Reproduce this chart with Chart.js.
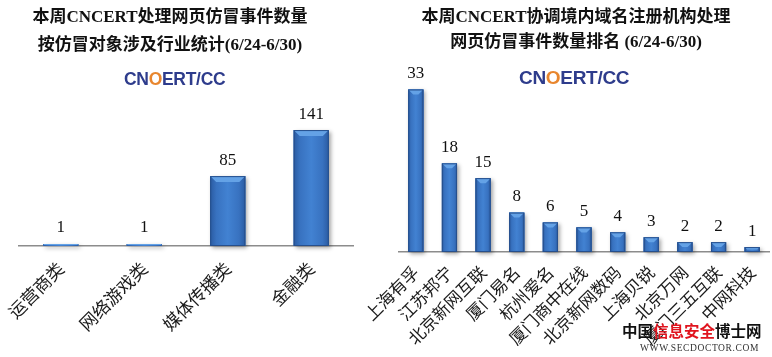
<!DOCTYPE html>
<html><head><meta charset="utf-8">
<script src="https://cdn.jsdelivr.net/npm/chart.js@4.4.1/dist/chart.umd.min.js"></script>
<style>
html,body{margin:0;padding:0;background:#fff;}
#wrap{position:relative;width:772px;height:357px;overflow:hidden;background:#fff;}
canvas{position:absolute;top:0;}
.title{position:absolute;text-align:center;font-family:"Liberation Serif","Noto Sans CJK SC",serif;font-weight:bold;font-size:17px;color:#111;white-space:nowrap;}
.logo{position:absolute;font-family:"Liberation Sans",Arial,sans-serif;font-weight:bold;color:#2E3C8C;white-space:nowrap;line-height:1;letter-spacing:-0.3px;}
.logo span{color:#E8862E;}
.wm{position:absolute;white-space:nowrap;}
</style></head>
<body><div id="wrap">
<canvas id="c1" width="386" height="357" style="left:0"></canvas>
<canvas id="c2" width="472" height="357" style="left:300px"></canvas>
<div class="title" style="left:0;width:340px;top:3px;line-height:28px;">本周CNCERT处理网页仿冒事件数量<br>按仿冒对象涉及行业统计(6/24-6/30)</div>
<div class="title" style="left:406px;width:340px;top:4px;line-height:25px;">本周CNCERT协调境内域名注册机构处理<br>网页仿冒事件数量排名 (6/24-6/30)</div>
<div class="logo" style="left:124px;top:71px;font-size:17.5px;">CN<span>O</span>ERT/CC</div>
<div class="logo" style="left:519px;top:68px;font-size:19px;">CN<span>O</span>ERT/CC</div>
<div class="wm" style="left:622px;top:323px;font-family:'Noto Sans CJK SC';font-weight:bold;font-size:15.5px;line-height:1;color:#111;">中国<span style="color:#E0141E">信息安全</span>博士网</div>
<div class="wm" style="left:640px;top:344px;font-family:'Liberation Serif';font-size:9.5px;line-height:1;letter-spacing:0.6px;color:#333;">WWW.SECDOCTOR.COM</div>
</div>
<script>
const leftCategories = ['运营商类','网络游戏类','媒体传播类','金融类'];
const leftValues = [1, 1, 85, 141];
const rightCategories = ['上海有孚','江苏邦宁','北京新网互联','厦门易名','杭州爱名','厦门商中在线','北京新网数码','上海贝锐','北京万网','厦门三五互联','中网科技'];
const rightValues = [33, 18, 15, 8, 6, 5, 4, 3, 2, 2, 1];

function barGeom(el){
  const w = el.width, l = el.x - w/2, r = el.x + w/2;
  const t = Math.min(el.y, el.base), b = Math.max(el.y, el.base);
  return {l, r, t, b, w};
}
const bevelPlugin = {
  id: 'bevel',
  beforeDatasetsDraw(chart){
    const ctx = chart.ctx;
    chart.getDatasetMeta(0).data.forEach(el => {
      const g = barGeom(el);
      ctx.save();
      ctx.shadowColor = 'rgba(0,0,0,0.35)';
      ctx.shadowBlur = 4; ctx.shadowOffsetX = 2; ctx.shadowOffsetY = 2;
      ctx.fillStyle = '#2f62a8';
      ctx.fillRect(g.l, g.t, g.w, g.b - g.t);
      ctx.restore();
    });
  },
  afterDatasetsDraw(chart, args, opts){
    const ctx = chart.ctx;
    const meta = chart.getDatasetMeta(0);
    const vals = chart.data.datasets[0].data;
    meta.data.forEach((el, i) => {
      const g = barGeom(el);
      const h = g.b - g.t;
      ctx.save();
      const grad = ctx.createLinearGradient(g.l, 0, g.r, 0);
      grad.addColorStop(0, '#2A5BA2');
      grad.addColorStop(0.18, '#3872C0');
      grad.addColorStop(0.5, '#4282D2');
      grad.addColorStop(0.82, '#3872C0');
      grad.addColorStop(1, '#2A5BA2');
      ctx.fillStyle = grad;
      ctx.fillRect(g.l, g.t, g.w, h);
      const bv = Math.min(opts.bevel, g.w/2.2, h/2);
      ctx.beginPath();
      ctx.moveTo(g.l, g.t); ctx.lineTo(g.r, g.t);
      ctx.lineTo(g.r - bv, g.t + bv); ctx.lineTo(g.l + bv, g.t + bv);
      ctx.closePath();
      ctx.fillStyle = '#64A2E6';
      ctx.fill();
      if (h > 4) {
        ctx.strokeStyle = '#264F8C';
        ctx.lineWidth = 1;
        ctx.strokeRect(g.l + 0.5, g.t + 0.5, g.w - 1, h - 1);
      }
      ctx.restore();
      ctx.save();
      ctx.font = opts.fontSize + 'px "Liberation Serif", serif';
      ctx.fillStyle = '#111';
      ctx.textAlign = 'center';
      ctx.textBaseline = 'middle';
      ctx.fillText(String(vals[i]), el.x, g.t - opts.labelGap);
      ctx.restore();
    });
  }
};

function makeChart(id, cats, vals, cfg){
  return new Chart(document.getElementById(id), {
    type: 'bar',
    data: { labels: cats, datasets: [{ data: vals, backgroundColor: '#3872C0', borderWidth: 0,
      barPercentage: cfg.barPct, categoryPercentage: 1, minBarLength: cfg.minBar }] },
    plugins: [bevelPlugin],
    options: {
      responsive: false, animation: false, devicePixelRatio: 1,
      layout: { padding: { left: cfg.pl, right: cfg.pr, top: cfg.pt, bottom: 0 } },
      plugins: { legend: { display: false }, title: { display: false }, tooltip: { enabled: false },
        bevel: { bevel: cfg.bevel, fontSize: 17, labelGap: 16 } },
      scales: {
        x: {
          grid: { display: false, drawTicks: false, tickLength: 0 },
          border: { display: true, color: '#8C8C8C', width: 1.5 },
          ticks: { minRotation: 45, maxRotation: 45, autoSkip: false, padding: cfg.tickPad,
            color: '#1a1a1a', font: { family: '"Noto Sans CJK SC", sans-serif', size: cfg.labelSize } },
          afterFit(scale){ scale.height = cfg.xh; scale.paddingLeft = 0; scale.paddingRight = 0; }
        },
        y: { display: false, min: 0, max: cfg.ymax }
      }
    }
  });
}
makeChart('c1', leftCategories, leftValues, {pl:19, pr:33, pt:98, xh:111, ymax:180, barPct:0.42, minBar:2, bevel:6, tickPad:12, labelSize:17.5});
makeChart('c2', rightCategories, rightValues, {pl:99, pr:3, pt:55, xh:105, ymax:40, barPct:0.45, minBar:2, bevel:5, tickPad:10, labelSize:17});
</script>
</body></html>
